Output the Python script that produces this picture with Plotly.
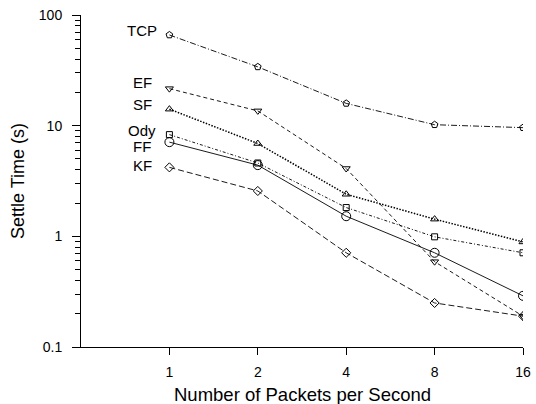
import math
import plotly.graph_objects as go

rates = [1, 2, 4, 8, 16]
tcp = [66, 34, 15.9, 10.2, 9.6]
ef = [21.6, 13.6, 4.1, 0.59, 0.19]
sf = [14.1, 6.9, 2.4, 1.43, 0.89]
ody = [8.3, 4.6, 1.82, 0.99, 0.71]
ff = [7.1, 4.4, 1.52, 0.71, 0.29]
kf = [4.2, 2.57, 0.71, 0.25, 0.19]
names = ["TCP", "EF", "SF", "Ody", "FF", "KF"]

styles = [
    # dash, symbol, marker size, line width, label yshift
    ("6px,2px,1px,2px", "pentagon-open", 7, 0.9, 4),
    ("4px,3px", "triangle-down-open", 7, 0.9, 6),
    ("1.5px,1.5px", "triangle-up-open", 7, 1.5, 4.5),
    ("3px,2px,1px,2px", "square-open", 6, 0.9, 4),
    ("solid", "circle-open", 9, 0.9, -4),
    ("6px,3px", "diamond-open", 7, 0.9, 2),
]
values = [tcp, ef, sf, ody, ff, kf]

fig = go.Figure()
font = "Liberation Sans, Arial, sans-serif"
for name, vals, (dash, sym, sz, lw, ysh) in zip(names, values, styles):
    fig.add_trace(go.Scatter(
        x=rates, y=vals, mode="lines+markers", name=name,
        line=dict(color="black", width=lw, dash=dash),
        marker=dict(symbol=sym, size=sz, color="black", line=dict(color="black", width=1)),
        showlegend=False,
    ))
    fig.add_annotation(x=0, y=math.log10(vals[0]), xref="x", yref="y",
                       text=name, showarrow=False, xanchor="center", yanchor="middle",
                       xshift=-27, yshift=ysh, font=dict(size=15, color="black", family=font))

fig.add_annotation(x=0.5, y=0, xref="paper", yref="paper", text="Number of Packets per Second",
                   showarrow=False, xanchor="center", yanchor="top", yshift=-35,
                   font=dict(size=18.5, color="black", family=font))

minor_vals = [m * 10 ** e for e in (-1, 0, 1) for m in range(2, 10)]

fig.update_layout(
    width=536, height=404,
    margin=dict(l=81, r=13, t=15, b=57),
    paper_bgcolor="white", plot_bgcolor="white",
    font=dict(family=font, size=14, color="black"),
    xaxis=dict(
        type="log", range=[-0.30103, 1.20412], automargin=False,
        tickvals=rates, ticktext=[str(r) for r in rates],
        showgrid=False, zeroline=False, showline=True, linecolor="black", linewidth=1,
        ticks="outside", ticklen=7, tickcolor="black", ticklabelstandoff=5,
    ),
    yaxis=dict(
        type="log", range=[-1, 2], automargin=False,
        tickvals=[0.1, 1, 10, 100], ticktext=["0.1", "1", "10", "100"],
        showgrid=False, zeroline=False, showline=True, linecolor="black", linewidth=1,
        ticks="outside", ticklen=8, tickcolor="black", ticklabelstandoff=7,
        minor=dict(tickvals=minor_vals, ticks="outside", ticklen=5, tickcolor="black", showgrid=False),
        title=dict(text="Settle Time (s)", font=dict(size=18), standoff=9),
    ),
)

fig.write_html("out.html", config={"displayModeBar": False},
               post_script="document.body.style.margin='0';document.body.style.overflow='hidden';")
